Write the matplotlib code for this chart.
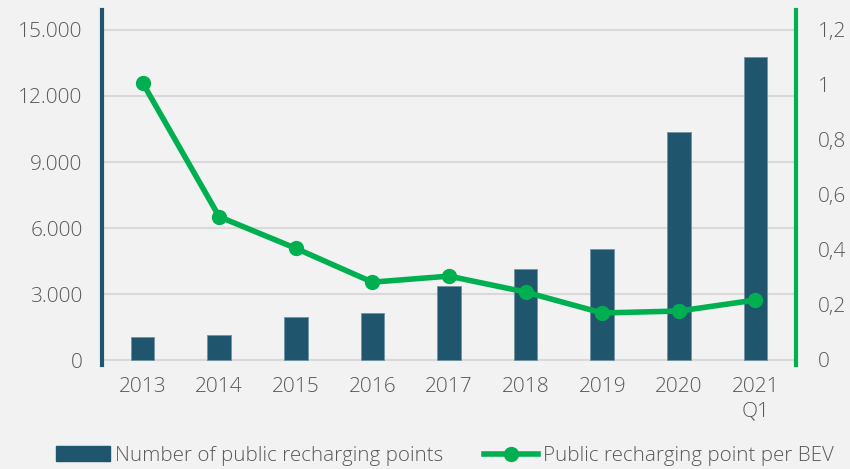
import matplotlib
matplotlib.use("Agg")
import matplotlib.pyplot as plt
from matplotlib.lines import Line2D
from matplotlib.patches import Patch

categories = ["2013", "2014", "2015", "2016", "2017", "2018", "2019", "2020", "2021\nQ1"]
recharging_points = [1045, 1136, 1955, 2120, 3360, 4140, 5045, 10360, 13770]
points_per_bev = [1.008, 0.521, 0.406, 0.283, 0.305, 0.247, 0.171, 0.178, 0.218]
left_ticks = [0, 3000, 6000, 9000, 12000, 15000]
left_labels = ["0", "3.000", "6.000", "9.000", "12.000", "15.000"]
right_ticks = [0, 0.2, 0.4, 0.6, 0.8, 1.0, 1.2]
right_labels = ["0", "0,2", "0,4", "0,6", "0,8", "1", "1,2"]

BG = "#f2f2f2"
BAR = "#1f566d"
GREEN = "#00b050"
TXT = "#595959"

plt.rcParams["font.family"] = ["Open Sans", "DejaVu Sans"]
plt.rcParams["font.weight"] = "light"

fig = plt.figure(figsize=(8.5, 4.69), dpi=100, facecolor=BG)
ax = fig.add_axes([102/850, 1-365/469, (796-102)/850, 355/469])
ax.set_facecolor(BG)
x = list(range(len(categories)))
ax.bar(x, recharging_points, width=0.31, color=BAR, edgecolor="#6f93a3", linewidth=0.6, zorder=2)
ax.set_ylim(-227, 15909)
ax.set_xlim(-0.53, len(categories) - 0.47)
ax.set_yticks(left_ticks)
ax.set_yticklabels(left_labels)
ax.set_xticks(x)
ax.set_xticklabels(categories, linespacing=1.25)
ax.grid(axis="y", color="#d9d9d9", linewidth=1.5, zorder=0)
ax.set_axisbelow(True)
for s in ["top", "right", "bottom"]:
    ax.spines[s].set_visible(False)
ax.spines["left"].set_color(BAR)
ax.spines["left"].set_linewidth(3)
ax.tick_params(axis="both", length=0, labelsize=15, labelcolor=TXT)
ax.tick_params(axis="y", pad=14)
ax.tick_params(axis="x", pad=9)

ax2 = ax.twinx()
ax2.plot(x, points_per_bev, color=GREEN, linewidth=4, marker="o", markersize=10, zorder=3)
ax2.set_ylim(-0.0182, 1.2727)
ax2.set_yticks(right_ticks)
ax2.set_yticklabels(right_labels)
for s in ["top", "left", "bottom"]:
    ax2.spines[s].set_visible(False)
ax2.spines["right"].set_color(GREEN)
ax2.spines["right"].set_linewidth(3)
ax2.tick_params(axis="y", length=0, labelsize=15, labelcolor=TXT, pad=16)

handles = [Patch(facecolor=BAR, edgecolor=BAR),
           Line2D([0], [0], color=GREEN, linewidth=4, marker="o", markersize=10)]
labels = ["Number of public recharging points", "Public recharging point per BEV"]
leg = fig.legend(handles, labels, loc="center", bbox_to_anchor=(0.5235, 13/469),
                 ncol=2, frameon=False, fontsize=14.8, handlelength=2.6, handleheight=0.75,
                 columnspacing=2.0, handletextpad=0.25, labelcolor=TXT)

fig.savefig("out.png", dpi=100, facecolor=BG)
